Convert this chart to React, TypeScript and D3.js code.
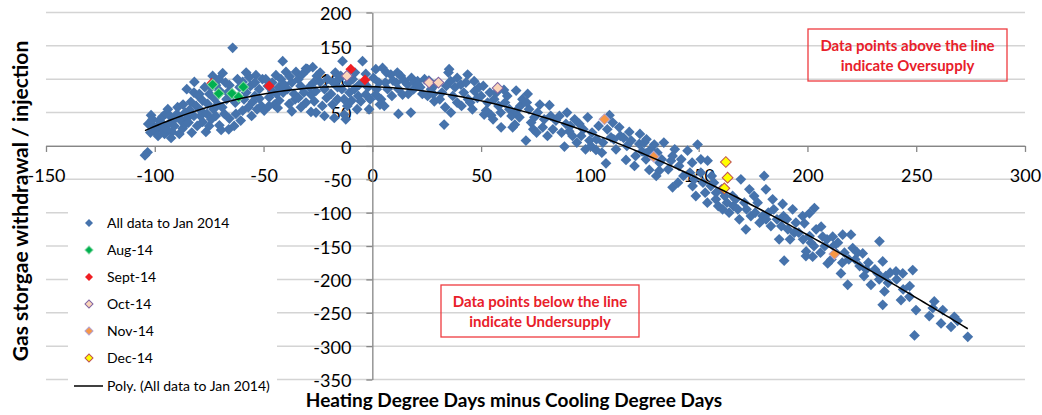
import React, { useRef, useEffect } from 'react';
import * as d3 from 'd3';

type Pt = [number, number];

// All data to Jan 2014 ([HDD-CDD, withdrawal])
const allData: Pt[] = [
  [-103.3, -9.5], [-104.5, -14], [-102, 20], [-101.7, 46], [-103, 33], [-100.5, 30], [-100, 22], [-101, 40],
  [-98, 38], [-96.4, 44], [-97, 25], [-99, 28], [-95.5, 18], [-96, 32], [-98.5, 15], [-95, 48],
  [-94.9, 26], [-93.3, 34], [-92, 21], [-91, 40], [-90.3, 46], [-92.5, 12], [-94, 55], [-91, 30], [-93, 45],
  [-88.7, 18], [-87.2, 26], [-89.5, 58], [-86, 50], [-88, 38], [-85.3, 85], [-87, 62], [-86, 32], [-89, 45], [-85, 42],
  [-83.4, 66], [-81.8, 96], [-84, 54], [-82, 45], [-80.5, 30], [-83, 20], [-81, 60], [-84.5, 35], [-80, 75], [-82, 80],
  [-79.5, 78], [-78.8, 53], [-78, 36], [-76.5, 21], [-75.7, 63], [-74.9, 78], [-77, 88], [-79, 45], [-76, 48], [-78, 68], [-75, 30],
  [-73.4, 105], [-72.6, 71], [-71.9, 91], [-70.3, 83], [-70.3, 31], [-73, 55], [-74, 40], [-71, 62], [-72, 45], [-74, 88], [-70.5, 100],
  [-68.8, 109], [-65.7, 91], [-65.7, 41], [-67, 70], [-69, 58], [-66, 25], [-68, 48], [-66.5, 80], [-67.5, 95], [-69.5, 24],
  [-64.2, 147], [-62.7, 48], [-59.6, 53], [-63, 65], [-61, 88], [-64, 75], [-62, 100], [-60.5, 38], [-63.5, 30],
  [-59.6, 96], [-56.6, 103], [-55, 66], [-58, 80], [-57, 58], [-59, 70], [-56, 90], [-55.5, 45], [-58, 110],
  [-53.5, 106], [-51.9, 71], [-52, 85], [-54, 95], [-51, 60], [-53, 55], [-50.5, 100], [-54, 75],
  [-49.7, 53], [-47.4, 73], [-44.3, 106], [-48, 90], [-46, 82], [-45, 62], [-49, 100], [-46, 95], [-47.5, 60],
  [-42.8, 68], [-41.2, 127], [-39.7, 111], [-43, 88], [-41, 80], [-42, 100], [-44, 78], [-40.5, 92], [-43.5, 57],
  [-38.2, 63], [-35.1, 111], [-37, 95], [-36, 78], [-39, 85], [-35.5, 70], [-38, 104], [-37, 52],
  [-32.8, 58], [-30.5, 116], [-33, 90], [-31.5, 80], [-34, 100], [-30.5, 65], [-32, 108], [-34, 72],
  [-28.2, 51], [-27.4, 118], [-29.8, 115], [-28.2, 77], [-25.9, 50], [-26.7, 67], [-27, 95], [-29, 88], [-25.5, 105], [-26, 82],
  [-22, 85], [-24, 96], [-21, 72], [-23, 60], [-20.5, 100], [-24, 110], [-22, 45],
  [-17.5, 42], [-18.3, 62], [-16, 88], [-19, 78], [-15.5, 100], [-17, 110], [-18, 95], [-16, 70],
  [-13.7, 127], [-12.9, 47], [-12.2, 40], [-14, 85], [-11, 95], [-13, 70], [-10.5, 80], [-14.5, 105], [-11.5, 60],
  [-8.3, 85], [-9, 100], [-6.5, 75], [-7, 55], [-9.5, 68], [-6, 92], [-8, 110],
  [-4.5, 127], [-5.3, 67], [-3, 77], [-2, 88], [-4, 95], [-1, 70], [-3, 108], [-1.5, 55],
  [1.6, 115], [4.7, 117], [1.6, 77], [3, 95], [2, 85], [4, 70], [0.5, 102], [3.5, 62],
  [5.5, 60], [8.5, 107], [6, 95], [7, 85], [9, 75], [6.5, 110], [9.5, 98],
  [13.1, 105], [13.9, 77], [11, 95], [12, 85], [14.5, 98], [12, 48], [11.5, 110],
  [17.7, 50], [16.2, 92], [18, 102], [19, 85], [16.5, 78], [19.5, 95],
  [20.8, 97], [22, 88], [24, 100], [23, 78], [21, 92],
  [25.4, 75], [28.5, 67], [27, 85], [29, 92], [26, 98], [28, 78],
  [33, 32], [32, 80], [34, 90], [31, 70], [33.5, 58], [35, 110],
  [35.3, 115], [36.1, 50], [37, 75], [38, 88], [39, 65], [36, 97], [39, 102],
  [40.7, 92], [43.8, 107], [41, 60], [42, 80], [44, 70], [43, 95],
  [46.8, 97], [48.3, 72], [46, 55], [49, 88], [47, 82], [45, 65],
  [51.4, 47], [52.3, 53], [54.6, 46], [50, 75], [53, 65], [51, 90], [54, 80],
  [59.2, 28], [56, 70], [58, 60], [57, 80], [59, 50], [55.5, 40],
  [64.5, 28], [62, 75], [61, 65], [63, 55], [64, 45], [60.5, 84],
  [66.1, 83], [67.6, 43], [68, 60], [66, 52], [69, 70], [65.5, 32],
  [71.4, 78], [70.6, 8], [74.5, 43], [72, 55], [73, 35], [71, 65], [74, 25],
  [78.3, 28], [76, 50], [77, 62], [79, 40], [75.5, 20],
  [81.4, 61], [84.4, 38], [82, 45], [83, 25], [80.5, 15],
  [89, 33], [88.3, -1], [86, 45], [87, 20], [89.5, 50],
  [91, 30], [92, 15], [93, 40], [94, 5], [90.5, 22],
  [95.2, 33], [99, 43], [99.8, 8], [97, 25], [96, 15], [98, -5],
  [102.8, -6], [101, 20], [103, 10], [104, 30], [100.5, 0],
  [109, 46], [109.7, 13], [107.4, -26], [106, 5], [108, 25], [105.5, -10],
  [113.5, 28], [111, 10], [112, -5], [114, 15], [110.5, 35],
  [118.1, 21], [116.6, -21], [117, 0], [119, 8], [115.5, 12],
  [122.7, 3], [125, 5], [121, -15], [123, 18], [124, -8], [120.5, -30],
  [125.8, -11], [127.3, -36], [125.8, -20], [129.6, 2], [128, -5], [126, 10],
  [131.9, -37], [133, -20], [131, -10], [134, 5], [132, -25], [130.5, -45],
  [137.3, -22], [138, -62], [136, -35], [139, -5], [138, -15],
  [144.9, -7], [141, -30], [143, -45], [142, -20], [140.5, -55],
  [149.5, 2], [148.7, -75], [147.2, -60], [146, -40], [148, -50], [147, -25],
  [151, -20], [154.1, -22], [152, -55], [153, -70], [151, -40], [154, -85],
  [155.6, -60], [157.9, -80], [156, -45], [158, -70], [159, -90], [157, -55],
  [161, -95], [162, -75], [163, -85], [164, -100], [160.5, -65],
  [165.6, -75], [168.7, -110], [169.4, -50], [166, -90], [167, -80], [168, -95],
  [171.7, -125], [173.3, -65], [172, -95], [174, -105], [171, -85],
  [177.1, -85], [179.4, -105], [176, -100], [178, -115], [175.5, -75],
  [180.1, -45], [180.9, -65], [184, -80], [183.2, -120], [182, -100], [181, -110], [184.5, -95],
  [188.6, -87], [187, -140], [189.3, -172], [186, -110], [188, -120], [189, -105],
  [193.2, -95], [194.7, -115], [191, -125], [192, -140], [194, -130], [190.5, -110],
  [197.8, -105], [199.3, -165], [198.6, -116], [199.4, -158], [196, -130], [198, -140], [200.9, -101],
  [201.6, -145], [203.2, -93], [202.4, -166], [204, -125], [201, -135], [203, -150],
  [206.3, -121], [207, -136], [209.3, -176], [208, -150], [206, -160], [209, -140],
  [211.6, -136], [212, -150], [213, -160], [214, -145], [211, -170],
  [216.2, -133], [215.4, -191], [218.5, -208], [217, -160], [219, -170], [216, -175],
  [220, -133], [220.8, -153], [222, -170], [224, -180], [223, -160],
  [225.4, -161], [229.2, -208], [227, -185], [228, -175], [226, -195],
  [233.1, -143], [234.6, -173], [232.3, -191], [235.4, -218], [234.6, -238], [231, -185], [233, -200],
  [236, -195], [238, -190], [237, -205],
  [240.7, -188], [243.8, -191], [243, -231], [241, -200], [244, -215],
  [248.4, -186], [246.9, -226], [249.9, -246], [249.2, -284], [247, -210],
  [258.3, -233], [257.6, -243], [256, -255],
  [262.2, -246], [261.4, -266],
  [267.5, -256], [266, -271], [269, -262],
  [273.7, -286],
];

const aug14: Pt[] = [[-73.4, 92], [-70.6, 78.5], [-64.5, 78.5], [-61.5, 73.5], [-59.3, 88.5]];
const sep14: Pt[] = [[-73.8, 94], [-47.4, 90], [-9.9, 115], [-3.4, 99]];
const oct14: Pt[] = [[-11.7, 105], [26.1, 95], [30.4, 95], [57.6, 87]];
const nov14: Pt[] = [[106.7, 40], [129.3, -16], [212.4, -162]];
const dec14: Pt[] = [[162.5, -24], [163.3, -47.5], [161.8, -63.5]];

const xTicks = [-150, -100, -50, 0, 50, 100, 150, 200, 250, 300];
const yTicks = [200, 150, 100, 50, 0, -50, -100, -150, -200, -250, -300, -350];

const series = [
  { name: 'All data to Jan 2014', data: allData, fill: '#4673ac', stroke: '#4673ac' },
  { name: 'Sept-14', data: sep14, fill: '#f01e23', stroke: '#f01e23' },
  { name: 'Aug-14', data: aug14, fill: '#00b050', stroke: '#7fd6a0' },
  { name: 'Oct-14', data: oct14, fill: '#fbd5b9', stroke: '#8064a2' },
  { name: 'Nov-14', data: nov14, fill: '#f79646', stroke: '#b6a3cc' },
  { name: 'Dec-14', data: dec14, fill: '#ffff00', stroke: '#c0504d' },
];
const legendOrder = ['All data to Jan 2014', 'Aug-14', 'Sept-14', 'Oct-14', 'Nov-14', 'Dec-14'];

const FONT = 'Lato, "Open Sans", sans-serif';

// least squares polynomial (Excel "Poly." trendline, order 3)
const polyFit = (pts: Pt[], order: number) => {
  const n = order + 1;
  const A: number[][] = Array.from({ length: n }, () => new Array(n + 1).fill(0));
  pts.forEach(([x0, y]) => {
    const x = x0 / 100;
    for (let i = 0; i < n; i++) {
      for (let j = 0; j < n; j++) A[i][j] += Math.pow(x, i + j);
      A[i][n] += y * Math.pow(x, i);
    }
  });
  for (let c = 0; c < n; c++) {
    let p = c;
    for (let r = c + 1; r < n; r++) if (Math.abs(A[r][c]) > Math.abs(A[p][c])) p = r;
    [A[c], A[p]] = [A[p], A[c]];
    for (let r = 0; r < n; r++) {
      if (r === c) continue;
      const f = A[r][c] / A[c][c];
      for (let k = c; k <= n; k++) A[r][k] -= f * A[c][k];
    }
  }
  const coef = A.map((row, i) => row[n] / row[i]);
  return (x0: number) => coef.reduce((s, c, i) => s + c * Math.pow(x0 / 100, i), 0);
};

const App = () => {
  const ref = useRef<SVGSVGElement>(null);

  useEffect(() => {
    draw();
  }, []);

  const draw = () => {
    const svg = d3.select(ref.current);
    svg.selectAll('*').remove();

    const x = d3.scaleLinear().domain([-150, 300]).range([46, 1025]);
    const y = d3.scaleLinear().domain([-350, 200]).range([379.5, 12.5]);

    // gridlines
    svg.append('g')
      .selectAll('line')
      .data(yTicks)
      .join('line')
      .attr('x1', x(-150)).attr('x2', x(300))
      .attr('y1', (d) => y(d)).attr('y2', (d) => y(d))
      .attr('stroke', '#d4d4d4')
      .attr('stroke-width', 1.5);

    // X axis at y = 0
    const gx = svg.append('g')
      .attr('transform', 'translate(0,' + y(0) + ')')
      .call(d3.axisBottom(x).tickValues(xTicks).tickSizeInner(6).tickSizeOuter(0).tickPadding(17).tickFormat((d) => String(d)));
    gx.select('.domain').attr('stroke', '#868686').attr('stroke-width', 1.3);
    gx.selectAll('.tick line').attr('stroke', '#868686').attr('stroke-width', 1.3);
    gx.selectAll('text').attr('font-family', FONT).attr('font-size', 18).attr('fill', '#000');

    // Y axis at x = 0
    const gy = svg.append('g')
      .attr('transform', 'translate(' + x(0) + ',0)')
      .call(d3.axisLeft(y).tickValues(yTicks).tickSizeInner(6).tickSizeOuter(0).tickPadding(15).tickFormat((d) => String(d)));
    gy.select('.domain').attr('stroke', '#868686').attr('stroke-width', 1.3);
    gy.selectAll('.tick line').attr('stroke', '#868686').attr('stroke-width', 1.3);
    gy.selectAll('text').attr('font-family', FONT).attr('font-size', 18).attr('fill', '#000').attr('dy', '0.4em');

    // points
    const diamond = d3.symbol().type(d3.symbolSquare).size(58);
    series.forEach((s) => {
      svg.append('g')
        .selectAll('path')
        .data(s.data)
        .join('path')
        .attr('d', diamond)
        .attr('transform', (d) => 'translate(' + x(d[0]) + ',' + y(d[1]) + ') rotate(45)')
        .attr('fill', s.fill)
        .attr('stroke', s.stroke)
        .attr('stroke-width', s.fill === s.stroke ? 0 : 1);
    });

    // trendline
    const fit = polyFit(allData, 3);
    const [xmin, xmax] = d3.extent(allData, (d) => d[0]) as [number, number];
    const tl = d3.range(xmin, xmax, 2).concat([xmax]);
    svg.append('path')
      .datum(tl)
      .attr('fill', 'none')
      .attr('stroke', '#000')
      .attr('stroke-width', 1.5)
      .attr('d', d3.line<number>().x((d) => x(d)).y((d) => y(fit(d))));

    // legend
    svg.append('rect').attr('x', 68).attr('y', 196).attr('width', 209).attr('height', 200).attr('fill', '#fff');
    const small = d3.symbol().type(d3.symbolSquare).size(32);
    legendOrder.forEach((name, i) => {
      const s = series.find((e) => e.name === name)!;
      const ly = 223 + i * 27;
      svg.append('path')
        .attr('d', small)
        .attr('transform', 'translate(89,' + ly + ') rotate(45)')
        .attr('fill', s.fill)
        .attr('stroke', s.stroke)
        .attr('stroke-width', s.fill === s.stroke ? 0 : 1);
      svg.append('text').attr('x', 107).attr('y', ly + 5).text(name)
        .attr('font-family', FONT).attr('font-size', 14).attr('fill', '#000');
    });
    svg.append('line').attr('x1', 74).attr('x2', 103).attr('y1', 386).attr('y2', 386).attr('stroke', '#000').attr('stroke-width', 1.5);
    svg.append('text').attr('x', 107).attr('y', 391).text('Poly. (All data to Jan 2014)')
      .attr('font-family', FONT).attr('font-size', 14).attr('fill', '#000');

    // annotation boxes
    const note = (bx: number, by: number, w: number, h: number, l1: string, l2: string) => {
      svg.append('rect').attr('x', bx).attr('y', by).attr('width', w).attr('height', h)
        .attr('fill', 'none').attr('stroke', '#ef3b3f').attr('stroke-width', 1.3);
      [l1, l2].forEach((t, i) => {
        svg.append('text').attr('x', bx + w / 2).attr('y', by + 22 + i * 20).text(t)
          .attr('text-anchor', 'middle').attr('font-family', FONT).attr('font-weight', 'bold')
          .attr('font-size', 15).attr('fill', '#e8202a');
      });
    };
    note(808, 29, 199, 52, 'Data points above the line', 'indicate Oversupply');
    note(441, 285, 198, 52, 'Data points below the line', 'indicate Undersupply');

    // axis titles
    svg.append('text')
      .attr('transform', 'translate(28,201) rotate(-90)')
      .attr('text-anchor', 'middle')
      .attr('font-family', FONT).attr('font-weight', 'bold').attr('font-size', 21)
      .text('Gas storgae withdrawal / injection');
    svg.append('text')
      .attr('x', 514).attr('y', 407)
      .attr('text-anchor', 'middle')
      .attr('font-family', FONT).attr('font-weight', 'bold').attr('font-size', 19)
      .text('Heating Degree Days minus Cooling Degree Days');
  };

  return (
    <svg ref={ref} width={1042} height={415} style={{ position: 'absolute', left: 0, top: 0, background: '#fff' }}></svg>
  );
};

export default App;
